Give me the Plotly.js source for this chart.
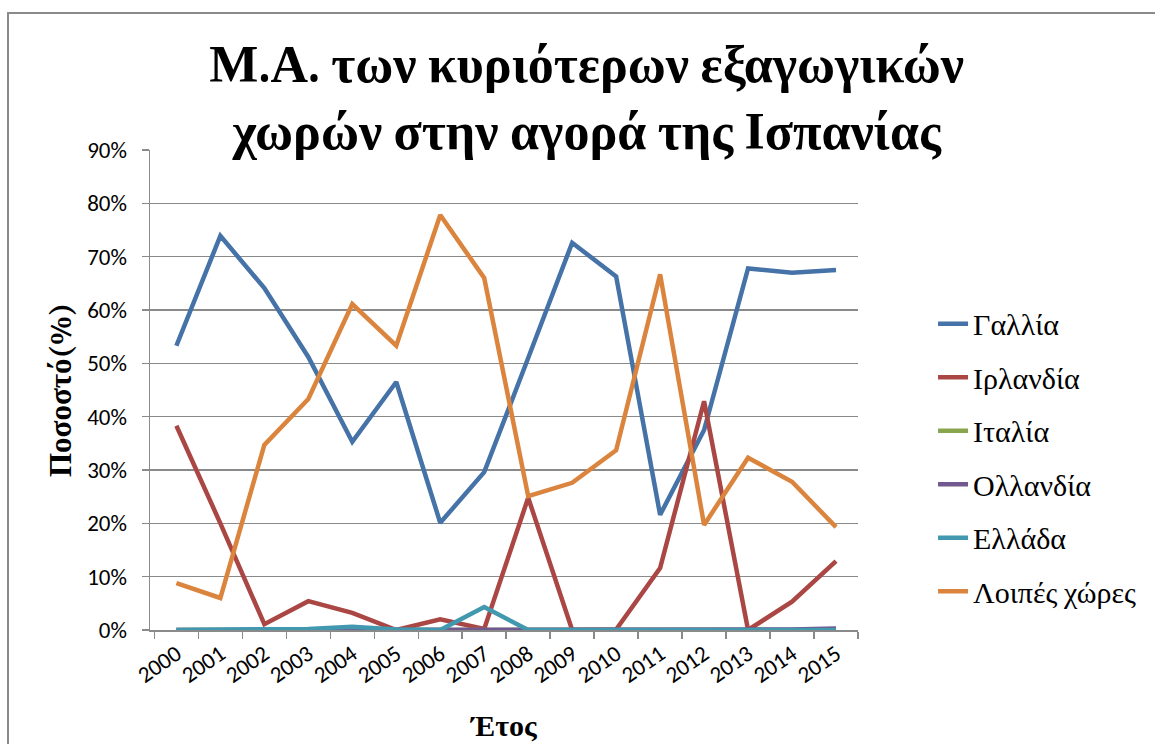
<!DOCTYPE html>
<html>
<head>
<meta charset="utf-8">
<script src="https://cdn.plot.ly/plotly-3.0.1.min.js"></script>
<style>
html,body{margin:0;padding:0;background:#fff;overflow:hidden;}
#frame{position:absolute;left:7px;top:12px;width:1200px;height:800px;border:2px solid #8a8a8a;box-sizing:border-box;pointer-events:none;z-index:5;}
#chart{position:absolute;left:0;top:0;width:1155px;height:744px;}
</style>
</head>
<body>
<div id="chart"></div>
<div id="frame"></div>
<script>
const years = ['2000','2001','2002','2003','2004','2005','2006','2007','2008','2009','2010','2011','2012','2013','2014','2015'];
const seriesNames = ['Γαλλία','Ιρλανδία','Ιταλία','Ολλανδία','Ελλάδα','Λοιπές χώρες'];
const gallia   = [53.3, 73.9, 64.1, 51.2, 35.3, 46.5, 20.1, 29.6, 51.0, 72.6, 66.3, 21.6, 37.5, 67.8, 67.0, 67.5];
const irlandia = [38.3, 20.0, 1.1, 5.4, 3.2, 0.0, 2.0, 0.2, 24.8, 0.0, 0.1, 11.6, 42.9, 0.0, 5.3, 12.9];
const italia   = [0.0, 0.0, 0.1, 0.2, 0.2, 0.2, 0.2, 0.2, 0.0, 0.0, 0.0, 0.0, 0.0, 0.0, 0.0, 0.0];
const ollandia = [0.0, 0.0, 0.0, 0.0, 0.0, 0.0, 0.0, 0.0, 0.0, 0.0, 0.0, 0.0, 0.0, 0.0, 0.1, 0.3];
const ellada   = [0.0, 0.0, 0.0, 0.2, 0.6, 0.1, 0.0, 4.3, 0.0, 0.0, 0.0, 0.0, 0.0, 0.0, 0.0, 0.0];
const loipes   = [8.8, 6.0, 34.7, 43.3, 61.1, 53.3, 77.8, 66.0, 25.1, 27.6, 33.7, 66.7, 19.7, 32.3, 27.8, 19.3];
const yTickVals = [0, 10, 20, 30, 40, 50, 60, 70, 80, 90];
const yTickText = ['0%','10%','20%','30%','40%','50%','60%','70%','80%','90%'];

const allSeries = [gallia, irlandia, italia, ollandia, ellada, loipes];
const colors = ['#4572A7', '#AA4643', '#89A54E', '#71588F', '#4198AF', '#DB843D'];

const serif = 'Caladea, "Liberation Serif", "DejaVu Serif", serif';
const sans = 'Carlito, "Liberation Sans", sans-serif';

const traces = allSeries.map((vals, i) => ({
  type: 'scatter', mode: 'lines',
  x: years, y: vals,
  name: seriesNames[i], legendgroup: 'g' + i,
  line: {color: colors[i], width: 4.5, shape: 'linear'},
  hoverinfo: 'x+y+name'
}));

const layout = {
  width: 1155, height: 744,
  margin: {l: 150, r: 297, t: 150, b: 114},
  paper_bgcolor: '#ffffff', plot_bgcolor: '#ffffff',
  title: {
    text: '<b>Μ.Α. των κυριότερων εξαγωγικών<br>χωρών στην αγορά της Ισπανίας</b>',
    font: {family: serif, size: 52, color: '#000'},
    x: 0.508, xref: 'container', xanchor: 'center',
    y: 0.89, yref: 'container', yanchor: 'middle'
  },
  xaxis: {
    type: 'category', tickson: 'boundaries',
    range: [-0.6, 15.5],
    showgrid: false, zeroline: false,
    showline: true, linecolor: '#8a8a8a', linewidth: 1.5,
    ticks: 'outside', ticklen: 7, tickcolor: '#8a8a8a', tickwidth: 1.5,
    tickangle: -35,
    tickfont: {family: sans, size: 23, color: '#000'},
    title: {text: '<b>Έτος</b>', font: {family: serif, size: 30, color: '#000'}, standoff: 30},
    automargin: false, fixedrange: true
  },
  yaxis: {
    range: [0, 90], tickvals: yTickVals, ticktext: yTickText,
    showgrid: true, gridcolor: '#8a8a8a', gridwidth: 1.5,
    zeroline: false,
    showline: true, linecolor: '#8a8a8a', linewidth: 1.5,
    ticks: 'outside', ticklen: 7, tickcolor: '#8a8a8a', tickwidth: 1.5,
    ticklabelstandoff: 10,
    tickfont: {family: sans, size: 23, color: '#000'},
    title: {text: '<b>Ποσοστό(%)</b>', font: {family: serif, size: 31, color: '#000'}, standoff: 6},
    automargin: false, fixedrange: true
  },
  legend: {
    x: 1.106, xanchor: 'left', y: 0.359, yanchor: 'middle',
    traceorder: 'grouped', tracegroupgap: 11.5,
    font: {family: serif, size: 30, color: '#000'},
    bgcolor: 'rgba(0,0,0,0)', borderwidth: 0
  },
  showlegend: true
};

Plotly.newPlot('chart', traces, layout, {displayModeBar: false, staticPlot: true});
</script>
</body>
</html>
